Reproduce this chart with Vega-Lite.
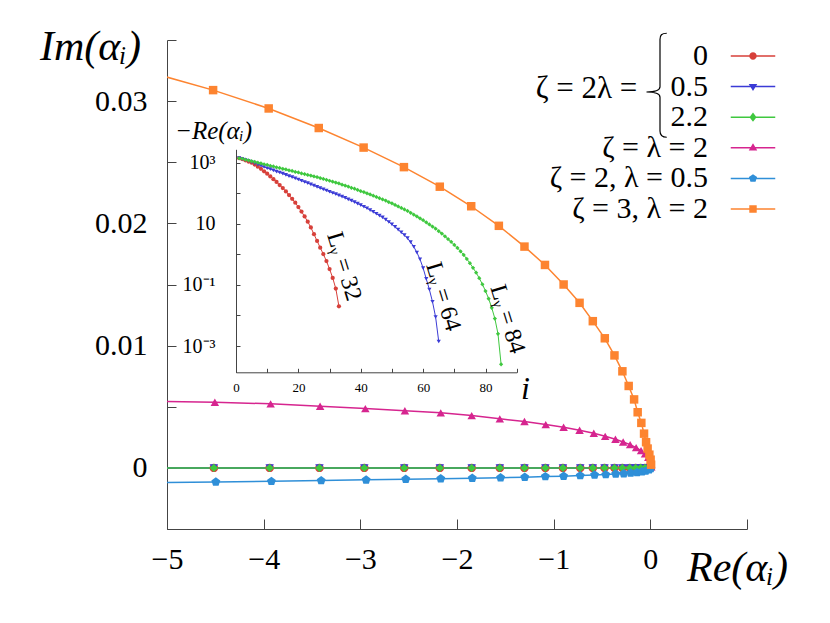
{
"$schema": "https://vega.github.io/schema/vega-lite/v6.json",
"width": 580, "height": 489,
"autosize": {"type": "none"},
"padding": {"left": 167, "top": 40, "right": 83, "bottom": 94},
"background": "white",
"config": {
  "font": "Liberation Serif, Times New Roman, serif",
  "view": {"stroke": null},
  "axis": {"grid": false, "domainColor": "#444", "tickColor": "#444", "labelColor": "black", "titleColor": "black", "titleFontWeight": "normal", "labelFont": "Liberation Serif, Times New Roman, serif", "titleFont": "Liberation Serif, Times New Roman, serif"},
  "legend": {"labelFont": "Liberation Serif, Times New Roman, serif"},
  "text": {"font": "Liberation Serif, Times New Roman, serif", "color": "black"}
},
"datasets": {
"main": [
{"s":"0","re":-5.15,"im":0},{"s":"0","re":-4.515,"im":0},{"s":"0","re":-3.938,"im":0},{"s":"0","re":-3.423,"im":0},{"s":"0","re":-2.959,"im":0},{"s":"0","re":-2.546,"im":0},{"s":"0","re":-2.178,"im":0},{"s":"0","re":-1.848,"im":0},{"s":"0","re":-1.557,"im":0},{"s":"0","re":-1.302,"im":0},{"s":"0","re":-1.086,"im":0},{"s":"0","re":-0.904,"im":0},{"s":"0","re":-0.725,"im":0},{"s":"0","re":-0.595,"im":0},{"s":"0","re":-0.474,"im":0},{"s":"0","re":-0.371,"im":0},{"s":"0","re":-0.289,"im":0},{"s":"0","re":-0.213,"im":0},{"s":"0","re":-0.152,"im":0},{"s":"0","re":-0.1,"im":0},{"s":"0","re":-0.055,"im":0},{"s":"0","re":-0.021,"im":0},{"s":"0","re":-0.005,"im":0},{"s":"0","re":0.005,"im":0},
{"s":"0.5","re":-5.15,"im":0},{"s":"0.5","re":-4.515,"im":0},{"s":"0.5","re":-3.938,"im":0},{"s":"0.5","re":-3.423,"im":0},{"s":"0.5","re":-2.959,"im":0},{"s":"0.5","re":-2.546,"im":0},{"s":"0.5","re":-2.178,"im":0},{"s":"0.5","re":-1.848,"im":0},{"s":"0.5","re":-1.557,"im":0},{"s":"0.5","re":-1.302,"im":0},{"s":"0.5","re":-1.086,"im":0},{"s":"0.5","re":-0.904,"im":0},{"s":"0.5","re":-0.725,"im":0},{"s":"0.5","re":-0.595,"im":0},{"s":"0.5","re":-0.474,"im":0},{"s":"0.5","re":-0.371,"im":0},{"s":"0.5","re":-0.289,"im":0},{"s":"0.5","re":-0.213,"im":0},{"s":"0.5","re":-0.152,"im":0},{"s":"0.5","re":-0.1,"im":0},{"s":"0.5","re":-0.055,"im":0},{"s":"0.5","re":-0.021,"im":0},{"s":"0.5","re":-0.005,"im":0},{"s":"0.5","re":0.005,"im":0},
{"s":"2.2","re":-5.15,"im":0},{"s":"2.2","re":-4.515,"im":0},{"s":"2.2","re":-3.938,"im":0},{"s":"2.2","re":-3.423,"im":0},{"s":"2.2","re":-2.959,"im":0},{"s":"2.2","re":-2.546,"im":0},{"s":"2.2","re":-2.178,"im":0},{"s":"2.2","re":-1.848,"im":0},{"s":"2.2","re":-1.557,"im":0},{"s":"2.2","re":-1.302,"im":0},{"s":"2.2","re":-1.086,"im":0},{"s":"2.2","re":-0.904,"im":0},{"s":"2.2","re":-0.725,"im":0},{"s":"2.2","re":-0.595,"im":0},{"s":"2.2","re":-0.474,"im":0},{"s":"2.2","re":-0.371,"im":0},{"s":"2.2","re":-0.289,"im":0},{"s":"2.2","re":-0.213,"im":0},{"s":"2.2","re":-0.152,"im":0},{"s":"2.2","re":-0.1,"im":0},{"s":"2.2","re":-0.055,"im":0},{"s":"2.2","re":-0.021,"im":0},{"s":"2.2","re":-0.005,"im":0},{"s":"2.2","re":0.005,"im":0},
{"s":"ζ = λ = 2","re":-5.15,"im":0.00545},{"s":"ζ = λ = 2","re":-4.505,"im":0.00537},{"s":"ζ = λ = 2","re":-3.928,"im":0.00524},{"s":"ζ = λ = 2","re":-3.416,"im":0.00504},{"s":"ζ = λ = 2","re":-2.948,"im":0.00485},{"s":"ζ = λ = 2","re":-2.539,"im":0.00467},{"s":"ζ = λ = 2","re":-2.168,"im":0.0045},{"s":"ζ = λ = 2","re":-1.848,"im":0.00428},{"s":"ζ = λ = 2","re":-1.557,"im":0.00401},{"s":"ζ = λ = 2","re":-1.302,"im":0.00379},{"s":"ζ = λ = 2","re":-1.082,"im":0.00354},{"s":"ζ = λ = 2","re":-0.897,"im":0.00332},{"s":"ζ = λ = 2","re":-0.732,"im":0.00308},{"s":"ζ = λ = 2","re":-0.585,"im":0.00283},{"s":"ζ = λ = 2","re":-0.467,"im":0.00258},{"s":"ζ = λ = 2","re":-0.361,"im":0.00234},{"s":"ζ = λ = 2","re":-0.281,"im":0.00212},{"s":"ζ = λ = 2","re":-0.209,"im":0.0019},{"s":"ζ = λ = 2","re":-0.147,"im":0.00166},{"s":"ζ = λ = 2","re":-0.096,"im":0.00141},{"s":"ζ = λ = 2","re":-0.055,"im":0.00114},{"s":"ζ = λ = 2","re":-0.021,"im":0.00086},{"s":"ζ = λ = 2","re":0.003,"im":0.00062},{"s":"ζ = λ = 2","re":0.008,"im":0.00032},{"s":"ζ = λ = 2","re":0.01,"im":0.00008},
{"s":"ζ = 2, λ = 0.5","re":-5.15,"im":-0.0012},{"s":"ζ = 2, λ = 0.5","re":-4.495,"im":-0.00115},{"s":"ζ = 2, λ = 0.5","re":-3.92,"im":-0.0011},{"s":"ζ = 2, λ = 0.5","re":-3.405,"im":-0.00104},{"s":"ζ = 2, λ = 0.5","re":-2.94,"im":-0.00098},{"s":"ζ = 2, λ = 0.5","re":-2.53,"im":-0.00093},{"s":"ζ = 2, λ = 0.5","re":-2.168,"im":-0.00089},{"s":"ζ = 2, λ = 0.5","re":-1.842,"im":-0.00085},{"s":"ζ = 2, λ = 0.5","re":-1.549,"im":-0.00081},{"s":"ζ = 2, λ = 0.5","re":-1.299,"im":-0.00076},{"s":"ζ = 2, λ = 0.5","re":-1.086,"im":-0.00071},{"s":"ζ = 2, λ = 0.5","re":-0.897,"im":-0.00068},{"s":"ζ = 2, λ = 0.5","re":-0.725,"im":-0.00063},{"s":"ζ = 2, λ = 0.5","re":-0.577,"im":-0.00058},{"s":"ζ = 2, λ = 0.5","re":-0.461,"im":-0.00055},{"s":"ζ = 2, λ = 0.5","re":-0.358,"im":-0.0005},{"s":"ζ = 2, λ = 0.5","re":-0.275,"im":-0.00047},{"s":"ζ = 2, λ = 0.5","re":-0.203,"im":-0.00042},{"s":"ζ = 2, λ = 0.5","re":-0.137,"im":-0.00037},{"s":"ζ = 2, λ = 0.5","re":-0.086,"im":-0.00031},{"s":"ζ = 2, λ = 0.5","re":-0.048,"im":-0.00026},{"s":"ζ = 2, λ = 0.5","re":-0.013,"im":-0.00015},{"s":"ζ = 2, λ = 0.5","re":0.005,"im":-0.00005},
{"s":"ζ = 3, λ = 2","re":-5.15,"im":0.0323},{"s":"ζ = 3, λ = 2","re":-4.523,"im":0.0309},{"s":"ζ = 3, λ = 2","re":-3.948,"im":0.0294},{"s":"ζ = 3, λ = 2","re":-3.43,"im":0.0278},{"s":"ζ = 3, λ = 2","re":-2.966,"im":0.0262},{"s":"ζ = 3, λ = 2","re":-2.549,"im":0.0246},{"s":"ζ = 3, λ = 2","re":-2.178,"im":0.023},{"s":"ζ = 3, λ = 2","re":-1.853,"im":0.0214},{"s":"ζ = 3, λ = 2","re":-1.567,"im":0.0198},{"s":"ζ = 3, λ = 2","re":-1.302,"im":0.0181},{"s":"ζ = 3, λ = 2","re":-1.09,"im":0.0166},{"s":"ζ = 3, λ = 2","re":-0.897,"im":0.015},{"s":"ζ = 3, λ = 2","re":-0.732,"im":0.0135},{"s":"ζ = 3, λ = 2","re":-0.595,"im":0.012},{"s":"ζ = 3, λ = 2","re":-0.471,"im":0.0106},{"s":"ζ = 3, λ = 2","re":-0.371,"im":0.0092},{"s":"ζ = 3, λ = 2","re":-0.289,"im":0.0079},{"s":"ζ = 3, λ = 2","re":-0.224,"im":0.0067},{"s":"ζ = 3, λ = 2","re":-0.168,"im":0.0056},{"s":"ζ = 3, λ = 2","re":-0.131,"im":0.00455},{"s":"ζ = 3, λ = 2","re":-0.093,"im":0.00368},{"s":"ζ = 3, λ = 2","re":-0.065,"im":0.0028},{"s":"ζ = 3, λ = 2","re":-0.044,"im":0.0021},{"s":"ζ = 3, λ = 2","re":-0.028,"im":0.00158},{"s":"ζ = 3, λ = 2","re":-0.01,"im":0.00108},{"s":"ζ = 3, λ = 2","re":0.003,"im":0.00067},{"s":"ζ = 3, λ = 2","re":0.008,"im":0.00026}
],
"inset": [
{"s":"0","i":1,"v":1413},{"s":"0","i":2,"v":1318},{"s":"0","i":3,"v":1202},{"s":"0","i":4,"v":1096},{"s":"0","i":5,"v":1000},{"s":"0","i":6,"v":871},{"s":"0","i":7,"v":741},{"s":"0","i":8,"v":631},{"s":"0","i":9,"v":525},{"s":"0","i":10,"v":437},{"s":"0","i":11,"v":355},{"s":"0","i":12,"v":288},{"s":"0","i":13,"v":234},{"s":"0","i":14,"v":186},{"s":"0","i":15,"v":148},{"s":"0","i":16,"v":115},{"s":"0","i":17,"v":87.1},{"s":"0","i":18,"v":66.1},{"s":"0","i":19,"v":49.0},{"s":"0","i":20,"v":35.5},{"s":"0","i":21,"v":25.1},{"s":"0","i":22,"v":17.4},{"s":"0","i":23,"v":11.7},{"s":"0","i":24,"v":7.59},{"s":"0","i":25,"v":4.57},{"s":"0","i":26,"v":2.75},{"s":"0","i":27,"v":1.66},{"s":"0","i":28,"v":1.02},{"s":"0","i":29,"v":0.603},{"s":"0","i":30,"v":0.331},{"s":"0","i":31,"v":0.17},{"s":"0","i":32,"v":0.0759},{"s":"0","i":33,"v":0.02},
{"s":"0.5","i":1,"v":1413},{"s":"0.5","i":2,"v":1318},{"s":"0.5","i":3,"v":1230},{"s":"0.5","i":4,"v":1148},{"s":"0.5","i":5,"v":1047},{"s":"0.5","i":6,"v":955},{"s":"0.5","i":7,"v":871},{"s":"0.5","i":8,"v":794},{"s":"0.5","i":9,"v":724},{"s":"0.5","i":10,"v":661},{"s":"0.5","i":11,"v":617},{"s":"0.5","i":12,"v":562},{"s":"0.5","i":13,"v":513},{"s":"0.5","i":14,"v":479},{"s":"0.5","i":15,"v":437},{"s":"0.5","i":16,"v":398},{"s":"0.5","i":17,"v":363},{"s":"0.5","i":18,"v":339},{"s":"0.5","i":19,"v":309},{"s":"0.5","i":20,"v":282},{"s":"0.5","i":21,"v":257},{"s":"0.5","i":22,"v":234},{"s":"0.5","i":23,"v":214},{"s":"0.5","i":24,"v":195},{"s":"0.5","i":25,"v":178},{"s":"0.5","i":26,"v":162},{"s":"0.5","i":27,"v":148},{"s":"0.5","i":28,"v":135},{"s":"0.5","i":29,"v":123},{"s":"0.5","i":30,"v":112},{"s":"0.5","i":31,"v":102},{"s":"0.5","i":32,"v":93.3},{"s":"0.5","i":33,"v":85.1},{"s":"0.5","i":34,"v":77.6},{"s":"0.5","i":35,"v":70.8},{"s":"0.5","i":36,"v":63.1},{"s":"0.5","i":37,"v":57.5},{"s":"0.5","i":38,"v":51.3},{"s":"0.5","i":39,"v":45.7},{"s":"0.5","i":40,"v":40.7},{"s":"0.5","i":41,"v":36.3},{"s":"0.5","i":42,"v":32.4},{"s":"0.5","i":43,"v":28.2},{"s":"0.5","i":44,"v":24.5},{"s":"0.5","i":45,"v":21.4},{"s":"0.5","i":46,"v":18.6},{"s":"0.5","i":47,"v":16.2},{"s":"0.5","i":48,"v":13.8},{"s":"0.5","i":49,"v":11.5},{"s":"0.5","i":50,"v":9.55},{"s":"0.5","i":51,"v":7.94},{"s":"0.5","i":52,"v":6.46},{"s":"0.5","i":53,"v":5.25},{"s":"0.5","i":54,"v":4.27},{"s":"0.5","i":55,"v":3.39},{"s":"0.5","i":56,"v":2.51},{"s":"0.5","i":57,"v":1.78},{"s":"0.5","i":58,"v":1.15},{"s":"0.5","i":59,"v":0.692},{"s":"0.5","i":60,"v":0.355},{"s":"0.5","i":61,"v":0.158},{"s":"0.5","i":62,"v":0.0708},{"s":"0.5","i":63,"v":0.0282},{"s":"0.5","i":64,"v":0.00891},{"s":"0.5","i":65,"v":0.00141},
{"s":"2.2","i":1,"v":1413},{"s":"2.2","i":2,"v":1349},{"s":"2.2","i":3,"v":1259},{"s":"2.2","i":4,"v":1202},{"s":"2.2","i":5,"v":1122},{"s":"2.2","i":6,"v":1072},{"s":"2.2","i":7,"v":1000},{"s":"2.2","i":8,"v":955},{"s":"2.2","i":9,"v":891},{"s":"2.2","i":10,"v":851},{"s":"2.2","i":11,"v":794},{"s":"2.2","i":12,"v":759},{"s":"2.2","i":13,"v":708},{"s":"2.2","i":14,"v":676},{"s":"2.2","i":15,"v":631},{"s":"2.2","i":16,"v":603},{"s":"2.2","i":17,"v":562},{"s":"2.2","i":18,"v":537},{"s":"2.2","i":19,"v":501},{"s":"2.2","i":20,"v":479},{"s":"2.2","i":21,"v":447},{"s":"2.2","i":22,"v":427},{"s":"2.2","i":23,"v":398},{"s":"2.2","i":24,"v":380},{"s":"2.2","i":25,"v":355},{"s":"2.2","i":26,"v":339},{"s":"2.2","i":27,"v":316},{"s":"2.2","i":28,"v":295},{"s":"2.2","i":29,"v":275},{"s":"2.2","i":30,"v":257},{"s":"2.2","i":31,"v":240},{"s":"2.2","i":32,"v":224},{"s":"2.2","i":33,"v":209},{"s":"2.2","i":34,"v":191},{"s":"2.2","i":35,"v":178},{"s":"2.2","i":36,"v":166},{"s":"2.2","i":37,"v":151},{"s":"2.2","i":38,"v":141},{"s":"2.2","i":39,"v":129},{"s":"2.2","i":40,"v":117},{"s":"2.2","i":41,"v":110},{"s":"2.2","i":42,"v":100},{"s":"2.2","i":43,"v":91.2},{"s":"2.2","i":44,"v":83.2},{"s":"2.2","i":45,"v":75.9},{"s":"2.2","i":46,"v":69.2},{"s":"2.2","i":47,"v":63.1},{"s":"2.2","i":48,"v":57.5},{"s":"2.2","i":49,"v":51.3},{"s":"2.2","i":50,"v":46.8},{"s":"2.2","i":51,"v":41.7},{"s":"2.2","i":52,"v":37.2},{"s":"2.2","i":53,"v":33.1},{"s":"2.2","i":54,"v":29.5},{"s":"2.2","i":55,"v":26.3},{"s":"2.2","i":56,"v":22.9},{"s":"2.2","i":57,"v":20.0},{"s":"2.2","i":58,"v":17.4},{"s":"2.2","i":59,"v":15.1},{"s":"2.2","i":60,"v":13.2},{"s":"2.2","i":61,"v":11.2},{"s":"2.2","i":62,"v":9.55},{"s":"2.2","i":63,"v":8.13},{"s":"2.2","i":64,"v":6.92},{"s":"2.2","i":65,"v":5.75},{"s":"2.2","i":66,"v":4.79},{"s":"2.2","i":67,"v":3.89},{"s":"2.2","i":68,"v":3.16},{"s":"2.2","i":69,"v":2.57},{"s":"2.2","i":70,"v":2.04},{"s":"2.2","i":71,"v":1.62},{"s":"2.2","i":72,"v":1.26},{"s":"2.2","i":73,"v":0.955},{"s":"2.2","i":74,"v":0.708},{"s":"2.2","i":75,"v":0.513},{"s":"2.2","i":76,"v":0.363},{"s":"2.2","i":77,"v":0.251},{"s":"2.2","i":78,"v":0.166},{"s":"2.2","i":79,"v":0.105},{"s":"2.2","i":80,"v":0.0631},{"s":"2.2","i":81,"v":0.0355},{"s":"2.2","i":82,"v":0.0178},{"s":"2.2","i":83,"v":0.00794},{"s":"2.2","i":84,"v":0.00251},{"s":"2.2","i":85,"v":0.000251}
],
"series": [{"s":"0"},{"s":"0.5"},{"s":"2.2"},{"s":"ζ = λ = 2"},{"s":"ζ = 2, λ = 0.5"},{"s":"ζ = 3, λ = 2"}]
},
"resolve": {"scale": {"x": "independent", "y": "independent", "shape": "independent", "fill": "independent"}, "axis": {"x": "independent", "y": "independent"}},
"layer": [
{
  "layer": [
    {
      "data": {"name": "main"},
      "mark": {"type": "line", "clip": true, "strokeWidth": 1.5},
      "encoding": {
        "x": {"field": "re", "type": "quantitative", "scale": {"domain": [-5, 1], "nice": false, "zero": false},
          "axis": {"orient": "bottom", "values": [-5, -4, -3, -2, -1, 0, 1], "format": "d", "labelFlush": false, "tickSize": -10, "labelExpr": "datum.value < 0.5 ? datum.label : ''", "labelFontSize": 30, "labelPadding": 25, "title": "Re(αᵢ)", "titleFontSize": 42, "titleFontStyle": "italic", "titleX": 570, "titleY": 38, "titleAlign": "center", "titleBaseline": "middle"}},
        "y": {"field": "im", "type": "quantitative", "scale": {"domain": [-0.005, 0.035], "nice": false, "zero": false},
          "axis": {"orient": "left", "values": [-0.005, 0, 0.005, 0.01, 0.015, 0.02, 0.025, 0.03, 0.035], "labelFlush": false, "tickSize": -9, "labelExpr": "indexof(['0','0.01','0.02','0.03'], format(datum.value, '.3~f')) >= 0 ? format(datum.value, '.2~f') : ''", "labelFontSize": 30, "labelPadding": 29, "title": "Im(αᵢ)", "titleFontSize": 42, "titleFontStyle": "italic", "titleAngle": 0, "titleX": -77, "titleY": 6, "titleAlign": "center", "titleBaseline": "middle"}},
        "color": {"field": "s", "type": "nominal", "scale": {"domain": ["0", "0.5", "2.2", "ζ = λ = 2", "ζ = 2, λ = 0.5", "ζ = 3, λ = 2"], "range": ["#d7403a", "#3b3bd6", "#3fc83f", "#d6258f", "#2f8fd8", "#fd8430"]}, "legend": null}
      }
    },
    {
      "data": {"name": "main"},
      "mark": {"type": "point", "clip": true, "filled": true, "opacity": 1, "size": 72},
      "encoding": {
        "x": {"field": "re", "type": "quantitative"},
        "y": {"field": "im", "type": "quantitative"},
        "color": {"field": "s", "type": "nominal", "scale": {"domain": ["0", "0.5", "2.2", "ζ = λ = 2", "ζ = 2, λ = 0.5", "ζ = 3, λ = 2"], "range": ["#d7403a", "#3b3bd6", "#3fc83f", "#d6258f", "#2f8fd8", "#fd8430"]}, "legend": null},
        "shape": {"field": "s", "type": "nominal", "scale": {"domain": ["0", "0.5", "2.2", "ζ = λ = 2", "ζ = 2, λ = 0.5", "ζ = 3, λ = 2"], "range": ["circle", "triangle-down", "diamond", "triangle-up", "M0,-1.1L1.05,-0.34L0.65,0.89L-0.65,0.89L-1.05,-0.34Z", "square"]}, "legend": null}
      }
    },
    {
      "data": {"values": [{}]},
      "mark": {"type": "text", "align": "right", "baseline": "middle", "fontSize": 31, "color": "black"},
      "encoding": {"x": {"datum": -0.135}, "y": {"datum": 0.031}, "text": {"value": "ζ = 2λ ="}}
    },
    {
      "data": {"values": [{}]},
      "mark": {"type": "point", "shape": "M0.13,-1C0.03,-1,0,-0.96,0,-0.88L0,0.03C0,0.09,-0.1,0.13,-0.26,0.13C-0.1,0.13,0,0.17,0,0.23L0,0.88C0,0.96,0.03,1,0.13,1", "size": 10816, "filled": false, "color": "black", "strokeWidth": 1.2, "opacity": 1},
      "encoding": {"x": {"datum": 0.1}, "y": {"datum": 0.0313}}
    }
  ]
},
{
  "layer": [
    {
      "data": {"name": "inset"},
      "mark": {"type": "line", "strokeWidth": 1},
      "encoding": {
        "x": {"field": "i", "type": "quantitative", "scale": {"domain": [0, 90], "range": [69, 349.7], "nice": false, "zero": false},
          "axis": {"orient": "bottom", "offset": -156.7, "values": [0, 10, 20, 30, 40, 50, 60, 70, 80, 90], "labelFlush": false, "tickSize": -4, "labelExpr": "datum.value % 20 == 0 && datum.value < 90 ? datum.label : ''", "labelFontSize": 13, "labelPadding": 13, "title": "i", "titleFontSize": 32, "titleFontStyle": "italic", "titleX": 358, "titleY": 16, "titleAlign": "center", "titleBaseline": "middle"}},
        "y": {"field": "v", "type": "quantitative", "scale": {"type": "log", "domain": [0.000138, 2750], "range": [332.3, 109.3], "nice": false},
          "axis": {"orient": "left", "offset": -69, "values": [0.001, 0.01, 0.1, 1, 10, 100, 1000], "labelFlush": false, "tickSize": -4, "labelExpr": "datum.value == 1000 ? '10³' : datum.value == 10 ? '10' : datum.value == 0.1 ? '10⁻¹' : datum.value == 0.001 ? '10⁻³' : ''", "labelFontSize": 20, "labelPadding": 25, "title": "−Re(αᵢ)", "titleFontSize": 25, "titleFontStyle": "italic", "titleAngle": 0, "titleX": -23, "titleY": 90, "titleAlign": "center", "titleBaseline": "middle"}},
        "color": {"field": "s", "type": "nominal", "scale": {"domain": ["0", "0.5", "2.2", "ζ = λ = 2", "ζ = 2, λ = 0.5", "ζ = 3, λ = 2"], "range": ["#d7403a", "#3b3bd6", "#3fc83f", "#d6258f", "#2f8fd8", "#fd8430"]}, "legend": null}
      }
    },
    {
      "data": {"name": "inset"},
      "mark": {"type": "point", "filled": true, "opacity": 1, "size": 18},
      "encoding": {
        "x": {"field": "i", "type": "quantitative"},
        "y": {"field": "v", "type": "quantitative"},
        "color": {"field": "s", "type": "nominal", "scale": {"domain": ["0", "0.5", "2.2", "ζ = λ = 2", "ζ = 2, λ = 0.5", "ζ = 3, λ = 2"], "range": ["#d7403a", "#3b3bd6", "#3fc83f", "#d6258f", "#2f8fd8", "#fd8430"]}, "legend": null},
        "shape": {"field": "s", "type": "nominal", "scale": {"domain": ["0", "0.5", "2.2", "ζ = λ = 2", "ζ = 2, λ = 0.5", "ζ = 3, λ = 2"], "range": ["circle", "triangle-down", "diamond", "triangle-up", "M0,-1.1L1.05,-0.34L0.65,0.89L-0.65,0.89L-1.05,-0.34Z", "square"]}, "legend": null}
      }
    },
    {
      "data": {"values": [{}]},
      "mark": {"type": "text", "align": "center", "baseline": "middle", "angle": 73, "fontSize": 24, "color": "black"},
      "encoding": {"x": {"datum": 34.6}, "y": {"datum": 0.4}, "text": {"value": "Lᵧ = 32"}}
    },
    {
      "data": {"values": [{}]},
      "mark": {"type": "text", "align": "center", "baseline": "middle", "angle": 73, "fontSize": 24, "color": "black"},
      "encoding": {"x": {"datum": 66.4}, "y": {"datum": 0.041}, "text": {"value": "Lᵧ = 64"}}
    },
    {
      "data": {"values": [{}]},
      "mark": {"type": "text", "align": "center", "baseline": "middle", "angle": 73, "fontSize": 24, "color": "black"},
      "encoding": {"x": {"datum": 87.0}, "y": {"datum": 0.0076}, "text": {"value": "Lᵧ = 84"}}
    }
  ]
},
{
  "data": {"name": "series"},
  "mark": {"type": "point", "filled": true, "opacity": 0},
  "encoding": {
    "fill": {"field": "s", "type": "nominal", "scale": {"domain": ["0", "0.5", "2.2", "ζ = λ = 2", "ζ = 2, λ = 0.5", "ζ = 3, λ = 2"], "range": ["#d7403a", "#3b3bd6", "#3fc83f", "#d6258f", "#2f8fd8", "#fd8430"]},
      "legend": {"orient": "none", "legendX": 571, "legendY": 1, "title": null, "padding": 0, "labelFontSize": 30, "labelColor": "black", "labelAlign": "right", "labelOffset": -60, "labelLimit": 400, "symbolSize": 55, "rowPadding": 0.6, "symbolOpacity": 1, "symbolStrokeWidth": 0}},
    "shape": {"field": "s", "type": "nominal", "scale": {"domain": ["0", "0.5", "2.2", "ζ = λ = 2", "ζ = 2, λ = 0.5", "ζ = 3, λ = 2"], "range": [
      "M-6,-0.2H-0.5V0.2H-6ZM0.5,-0.2H6V0.2H0.5ZM1,0A1,1,0,1,1,-1,0A1,1,0,1,1,1,0Z",
      "M-6,-0.2H-0.5V0.2H-6ZM0.5,-0.2H6V0.2H0.5ZM-1.15,-0.7L1.15,-0.7L0,1.2Z",
      "M-6,-0.2H-0.5V0.2H-6ZM0.5,-0.2H6V0.2H0.5ZM0,-1.25L0.95,0L0,1.25L-0.95,0Z",
      "M-6,-0.2H-0.5V0.2H-6ZM0.5,-0.2H6V0.2H0.5ZM1.15,0.7L-1.15,0.7L0,-1.2Z",
      "M-6,-0.2H-0.5V0.2H-6ZM0.5,-0.2H6V0.2H0.5ZM0,-1.15L1.1,-0.35L0.68,0.93L-0.68,0.93L-1.1,-0.35Z",
      "M-6,-0.2H-0.5V0.2H-6ZM0.5,-0.2H6V0.2H0.5ZM-1,-1H1V1H-1Z"]},
      "legend": {"orient": "none", "legendX": 571, "legendY": 1, "title": null, "padding": 0, "labelFontSize": 30, "labelColor": "black", "labelAlign": "right", "labelOffset": -60, "labelLimit": 400, "symbolSize": 55, "rowPadding": 0.6, "symbolOpacity": 1, "symbolStrokeWidth": 0}}
  }
}
]
}
